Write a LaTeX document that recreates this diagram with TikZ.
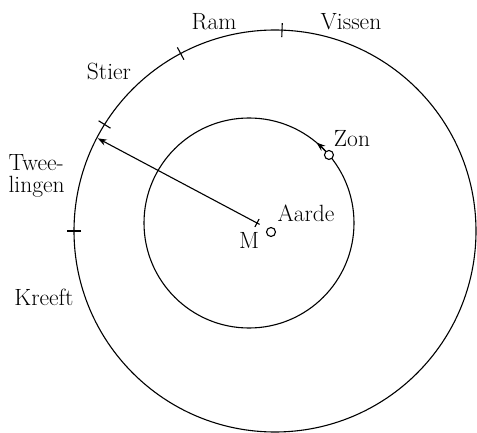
\documentclass[tikz,border=0pt]{standalone}
\usetikzlibrary{arrows.meta,calc}
\begin{document}
\begin{tikzpicture}[x=1pt,y=-1pt,
  line width=1.1pt,
  lbl/.style={inner sep=0pt,font=\fontsize{23.5}{20}\selectfont},
  body/.style={circle,draw,fill=white,inner sep=0pt,minimum size=9pt,line width=1.1pt},
  tick/.style={line width=1.1pt},
  tip/.style={-{Stealth[length=9pt,width=6.5pt]}}]
\useasboundingbox (0,0) rectangle (477,433);
% centres
\coordinate (O) at (275,231);
\coordinate (C) at (249,223);
\coordinate (M) at (257,223);
% zodiac circle and sun orbit
\draw (O) circle[radius=201];
\draw (C) circle[radius=105];
% arrow on sun orbit
\draw[tip] ($(C)+(-42:105)$) arc[start angle=-42,end angle=-50,radius=105];
% ticks on zodiac
\foreach \a in {-88,-118,-148,-180}{
  \draw[tick] ($(O)+(\a:194)$) -- ($(O)+(\a:208)$);
}
% line from M to zodiac
\coordinate (tw) at ($(O)+(-152.4:200)$);
\coordinate (mend) at ($(M)!-3pt!(tw)$);
\draw[tip] (mend) -- (tw);
\coordinate (m1) at ($(M)!4.5pt!90:(tw)$);
\coordinate (m2) at ($(M)!4.5pt!-90:(tw)$);
\draw[tick] (m1) -- (m2);
% bodies
\node[body] (aarde) at (271,232) {};
\node[body] (zon) at ($(C)+(-40.4:105)$) {};
% labels
\node[lbl] (lzon) at (352,139) {Zon};
\node[lbl] (laarde) at (306,213) {Aarde};
\node[lbl] (lm) at (249,240) {M};
\node[lbl] (lram) at (214,22) {Ram};
\node[lbl] (lvis) at (351,22) {Vissen};
\node[lbl] (lstier) at (109,71) {Stier};
\node[lbl,anchor=base west] (ltw1) at (8,171) {Twee-};
\node[lbl,anchor=base west] (ltw2) at (8,193) {lingen};
\node[lbl] (lkr) at (44,297) {Kreeft};
\end{tikzpicture}
\end{document}
